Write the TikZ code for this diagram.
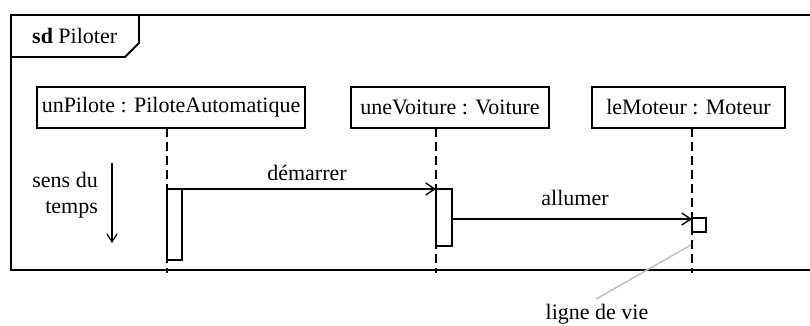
\documentclass[tikz,border=0pt]{standalone}
\usepackage{fontspec}
\setmainfont{Liberation Serif}
\usetikzlibrary{arrows.meta}
\begin{document}
\begin{tikzpicture}[x=1pt,y=-1pt,
  obj/.style={draw,line width=1.8pt,minimum height=41pt,inner sep=0pt,font=\fontsize{22}{24}\selectfont},
  life/.style={line width=1.4pt,dash pattern=on 9pt off 5pt},
  act/.style={draw,line width=1.8pt,fill=white},
  msg/.style={line width=1.2pt,-{Straight Barb[length=9pt,width=12pt,line width=1.4pt]}},
  lbl/.style={font=\fontsize{22}{26}\selectfont,inner sep=0pt,anchor=base}]
\useasboundingbox (0,0) rectangle (810,325);
% frame
\draw[line width=1.8pt] (812,15) -- (11,15) -- (11,270) -- (812,270);
\draw[line width=1.8pt] (11,57) -- (125,57) -- (139,43) -- (139,15);
\node[lbl,anchor=base west] (title) at (32,43) {\textbf{sd} Piloter};
% objects
\node[obj,minimum width=268pt] (o1) at (171,107.5) {unPilote : PiloteAutomatique};
\node[obj,minimum width=198pt] (o2) at (450,107.5) {uneVoiture : Voiture};
\node[obj,minimum width=193pt] (o3) at (688.5,107.5) {leMoteur : Moteur};
% lifelines
\coordinate (l1t) at (167,128); \coordinate (l1b) at (167,273);
\coordinate (l2t) at (436,128); \coordinate (l2b) at (436,273);
\coordinate (l3t) at (692,128); \coordinate (l3b) at (692,273);
\draw[life] (l1t) -- (l1b);
\draw[life] (l2t) -- (l2b);
\draw[life] (l3t) -- (l3b);
% activations
\draw[act] (167,189) rectangle (182,260);
\coordinate (a1) at (182,189);
\draw[act] (436,189) rectangle (452,246);
\coordinate (a2t) at (436,189);
\coordinate (a2) at (452,219);
\draw[act] (692,218) rectangle (706,232);
\coordinate (a3) at (692,219);
% messages
\draw[msg] (a1) -- (a2t);
\node[lbl] (m1) at (307,180) {démarrer};
\draw[msg] (a2) -- (a3);
\node[lbl] (m2) at (575,205) {allumer};
% time
\node[lbl,anchor=base east] (time1) at (98,187) {sens du};
\node[lbl,anchor=base east] (time2) at (98,213) {temps};
\coordinate (t1) at (112,163); \coordinate (t2) at (112,243);
\draw[line width=1.2pt,-{Straight Barb[length=8pt,width=10pt,line width=1.2pt]}] (t1) -- (t2);
% note
\node[lbl] (note) at (597,319) {ligne de vie};
\coordinate (n1) at (691,245); \coordinate (n2) at (596,299);
\draw[gray!50,line width=1.5pt] (n1) -- (n2);
\end{tikzpicture}
\end{document}
